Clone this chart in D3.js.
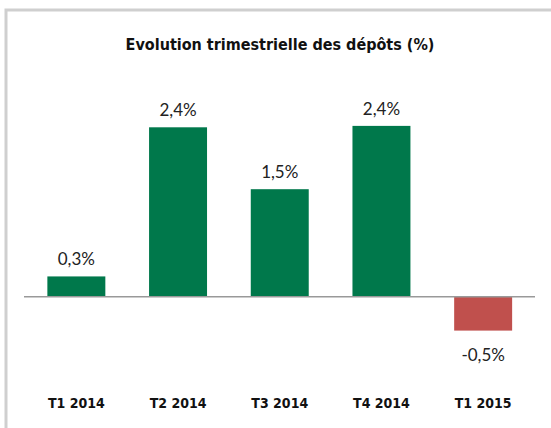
<!DOCTYPE html>
<html>
<head>
<meta charset="utf-8">
<script src="https://cdn.jsdelivr.net/npm/d3@7"></script>
<style>
  body { margin: 0; background: #fff; }
  svg { display: block; }
</style>
</head>
<body>
<div id="chart"></div>
<script>
// Chart data
const quarters = ["T1 2014", "T2 2014", "T3 2014", "T4 2014", "T1 2015"];
const growth = [0.29, 2.41, 1.53, 2.43, -0.48];
const title = "Evolution trimestrielle des dépôts (%)";

const width = 551, height = 428;

const svg = d3.select("#chart").append("svg")
    .attr("width", width)
    .attr("height", height);

// Frame (grey border top + left)
svg.append("path")
    .attr("d", "M6," + height + " V10 H" + width)
    .attr("fill", "none")
    .attr("stroke", "#cfcfcf")
    .attr("stroke-width", 3);

svg.append("text")
    .attr("x", 280)
    .attr("y", 50)
    .attr("text-anchor", "middle")
    .style("font-family", "'DejaVu Sans Condensed', 'DejaVu Sans', sans-serif")
    .style("font-weight", "bold")
    .style("font-size", "16px")
    .attr("fill", "#111")
    .text(title);

//Scales
const x = d3.scaleBand()
    .domain(quarters)
    .range([25.5, 534])
    .paddingInner(0.43)
    .paddingOuter(0.215);

const y = d3.scaleLinear()
    .domain([-0.5, 2.4])
    .range([332, 128]);

// Bars
svg.selectAll(".bar")
    .data(growth)
    .enter()
    .append("rect")
    .attr("class", "bar")
    .attr("x", (d, i) => x(quarters[i]))
    .attr("width", x.bandwidth())
    .attr("y", d => y(Math.max(0, d)))
    .attr("height", d => Math.abs(y(d) - y(0)))
    .attr("fill", d => d < 0 ? "#c0504d" : "#00784b");

// Zero line
svg.append("line")
    .attr("x1", 24)
    .attr("x2", 535)
    .attr("y1", y(0))
    .attr("y2", y(0))
    .attr("stroke", "#999")
    .attr("stroke-width", 1.5);

// Value labels
const fmt = d => d3.format(".1f")(d).replace(".", ",").replace("−", "-") + "%";
svg.selectAll(".value")
    .data(growth)
    .enter()
    .append("text")
    .attr("class", "value")
    .attr("x", (d, i) => x(quarters[i]) + x.bandwidth() / 2)
    .attr("y", d => d < 0 ? y(d) + 30 : y(d) - 11)
    .attr("text-anchor", "middle")
    .style("font-family", "Lato, sans-serif")
    .style("font-size", "17px")
    .attr("fill", "#222")
    .text(fmt);

// Category labels
const xAxis = svg.append("g")
    .attr("transform", "translate(0,408)")
    .call(d3.axisBottom(x).tickSize(0).tickPadding(0));
xAxis.select(".domain").remove();
xAxis.selectAll("text")
    .attr("dy", 0)
    .style("font-family", "'DejaVu Sans Condensed', 'DejaVu Sans', sans-serif")
    .style("font-weight", "bold")
    .style("font-size", "14px")
    .attr("fill", "#111");
</script>
</body>
</html>
